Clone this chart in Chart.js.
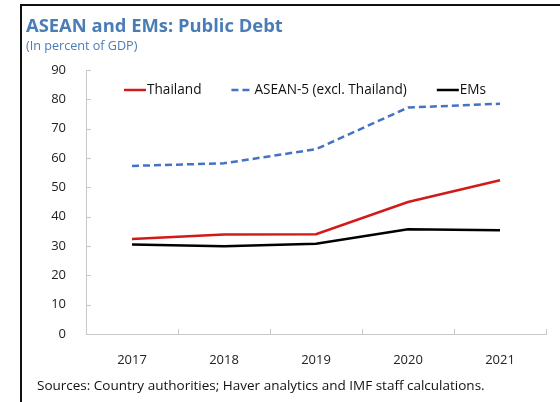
<!DOCTYPE html>
<html>
<head>
<meta charset="utf-8">
<script src="https://cdn.jsdelivr.net/npm/chart.js@4.4.1/dist/chart.umd.min.js"></script>
<style>
    body { margin: 0; background: #fff; }
    #wrap { position: relative; width: 560px; height: 402px; overflow: hidden; font-family: "Open Sans", sans-serif; }
    #frame { position: absolute; left: 20px; top: 4px; right: -2px; bottom: -2px; border-top: 2px solid #111; border-left: 2px solid #111; }
    #title { position: absolute; left: 26px; top: 12px; font-size: 18.4px; font-weight: bold; color: #4a7db5; }
    #subtitle { position: absolute; left: 26px; top: 37px; font-size: 12.6px; color: #4a7db5; }
    #source { position: absolute; left: 37px; top: 376px; font-size: 13.5px; color: #111; }
    #chart { position: absolute; left: 0; top: 0; }
</style>
</head>
<body>
<div id="wrap">
    <div id="frame"></div>
    <canvas id="chart" width="560" height="402"></canvas>
    <div id="title">ASEAN and EMs: Public Debt</div>
    <div id="subtitle">(In percent of GDP)</div>
    <div id="source">Sources: Country authorities; Haver analytics and IMF staff calculations.</div>
</div>
<script>
    const years = ['2017', '2018', '2019', '2020', '2021'];
    const thailand = [32.4, 33.9, 34.0, 45.0, 52.4];
    const asean5 = [57.3, 58.2, 63.0, 77.2, 78.5];
    const ems = [30.5, 29.9, 30.8, 35.7, 35.4];

    const seriesNames = ['Thailand', 'ASEAN-5 (excl. Thailand)', 'EMs'];
    const seriesColors = ['#d11a1a', '#4472c4', '#000000'];
    const seriesDash = [[], [7, 4], []];

    const axisColor = '#c8c8c8';

    // ticks pointing into the plot, legend drawn across the top of the plot
    const axisDecor = {
        id: 'axisDecor',
        afterDraw(chart) {
            const ctx = chart.ctx;
            const y = chart.scales.y;
            const area = chart.chartArea;
            ctx.save();
            ctx.strokeStyle = axisColor;
            ctx.lineWidth = 1;
            ctx.beginPath();
            const step = (area.right - area.left) / years.length;
            for (let i = 1; i <= years.length; i++) {
                const px = Math.round(area.left + i * step) + 0.5;
                ctx.moveTo(px, area.bottom);
                ctx.lineTo(px, area.bottom - 5);
            }
            y.ticks.forEach(t => {
                const py = Math.round(y.getPixelForValue(t.value)) + 0.5;
                ctx.moveTo(area.left, py);
                ctx.lineTo(area.left + 5, py);
            });
            ctx.stroke();

            // legend
            ctx.font = '13.6px "Open Sans", sans-serif';
            ctx.textBaseline = 'middle';
            ctx.fillStyle = '#111';
            let lx = 124;
            const ly = 90;
            chart.data.datasets.forEach((ds, i) => {
                ctx.strokeStyle = ds.borderColor;
                ctx.lineWidth = 2.5;
                ctx.setLineDash(ds.borderDash);
                ctx.beginPath();
                ctx.moveTo(lx, ly);
                ctx.lineTo(lx + 22, ly);
                ctx.stroke();
                ctx.setLineDash([]);
                ctx.fillText(ds.label, lx + 23, ly);
                lx += 23 + ctx.measureText(ds.label).width + 30;
            });
            ctx.restore();
        }
    };

    const datasets = [thailand, asean5, ems].map((values, i) => ({
        label: seriesNames[i],
        data: values,
        borderColor: seriesColors[i],
        borderDash: seriesDash[i],
        borderWidth: 2.5,
        pointRadius: 0,
        fill: false,
        tension: 0
    }));

    new Chart(document.getElementById('chart'), {
        type: 'line',
        data: { labels: years, datasets: datasets },
        options: {
            responsive: false,
            animation: false,
            layout: { padding: { left: 0, right: 14, top: 70, bottom: 0 } },
            plugins: {
                legend: { display: false },
                tooltip: { enabled: false }
            },
            scales: {
                x: {
                    offset: true,
                    grid: { display: false, offset: true },
                    border: { color: axisColor, width: 1 },
                    ticks: { color: '#222', font: { family: '"Open Sans", sans-serif', size: 13 }, padding: 10, maxRotation: 0 },
                    afterFit(s) { s.height = 68; }
                },
                y: {
                    min: 0,
                    max: 90,
                    ticks: { stepSize: 10, color: '#222', font: { family: '"Open Sans", sans-serif', size: 13 }, padding: 12 },
                    grid: { display: false },
                    border: { color: axisColor, width: 1 },
                    afterFit(s) { s.width = 86; }
                }
            }
        },
        plugins: [axisDecor]
    });
</script>
</body>
</html>
